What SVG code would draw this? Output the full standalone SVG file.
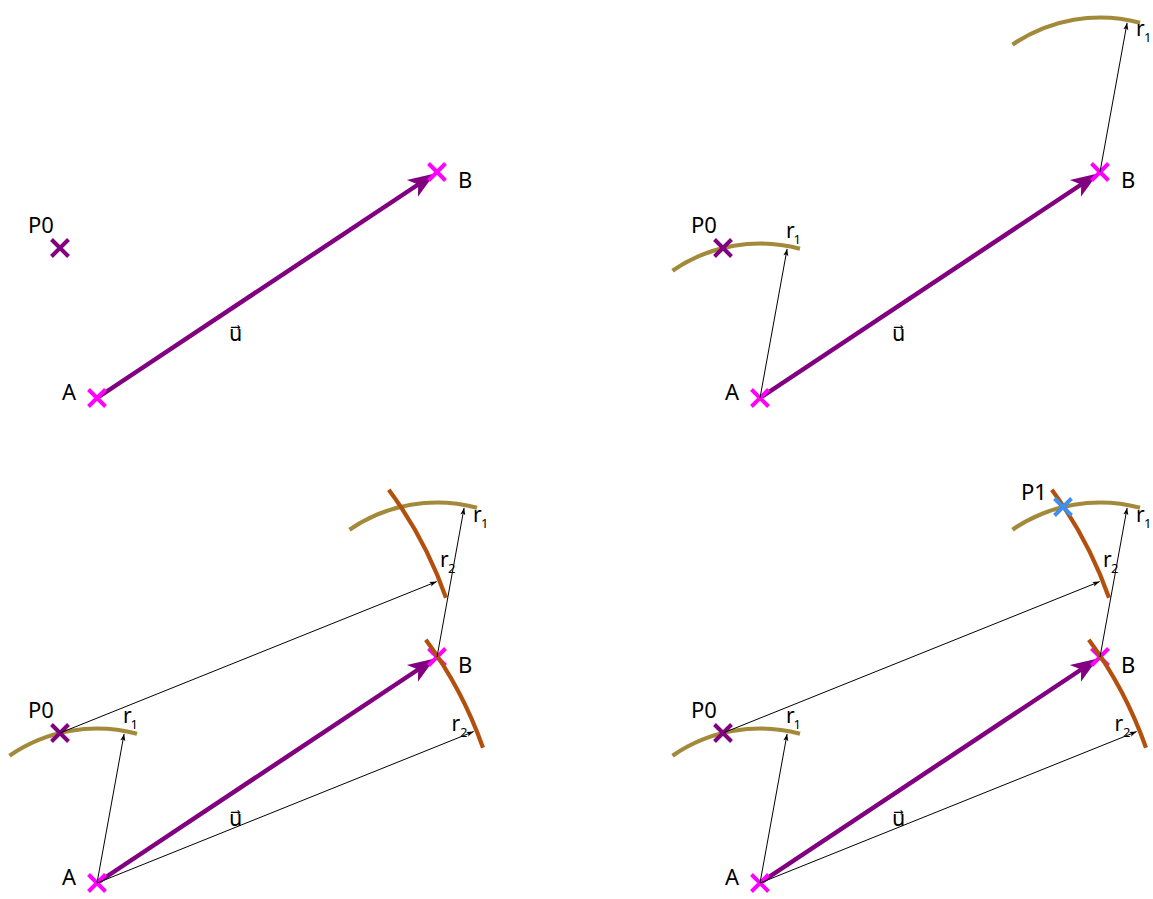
<svg xmlns="http://www.w3.org/2000/svg" xmlns:xlink="http://www.w3.org/1999/xlink" width="1153" height="899" viewBox="0 0 1153 899">
<style>
  .u { fill: none; stroke: #800080; stroke-width: 4.5; marker-end: url(#bigah); }
  .thin { fill: none; stroke: #000; stroke-width: 1; marker-end: url(#ah); }
  .arc1 { fill: none; stroke: #a38a3b; stroke-width: 4.2; }
  .arc2 { fill: none; stroke: #b4500e; stroke-width: 4.2; }
  .xm { fill: none; stroke: #ff00ff; stroke-width: 4; }
  .xp { fill: none; stroke: #800080; stroke-width: 4; }
  .xb { fill: none; stroke: #3d8ff0; stroke-width: 4; }
  .lbl { font-family: "Noto Sans", "Liberation Sans", sans-serif; font-size: 22px; fill: #000; }
  .rl { font-family: "Noto Sans", "Liberation Sans", sans-serif; font-size: 21px; fill: #000; }
  .sub { font-size: 13px; }
  .ul { font-family: "DejaVu Sans", sans-serif; font-size: 21px; fill: #000; }
</style>
<defs>
  <marker id="ah" viewBox="-8 -4 9 8" refX="0" refY="0" markerWidth="9" markerHeight="8" markerUnits="userSpaceOnUse" orient="auto">
    <path d="M0,0 L-7,-2.5 L-5.5,0 L-7,2.5 Z" fill="#000"/>
  </marker>
  <marker id="bigah" viewBox="-10 -12 32 24" refX="0" refY="0" markerWidth="32" markerHeight="24" markerUnits="userSpaceOnUse" orient="auto">
    <path d="M20,0 L-7,-10 L0,0 L-7,10 Z" fill="#800080"/>
  </marker>
  <path id="cross" d="M-8.5,-8.5 L8.5,8.5 M-8.5,8.5 L8.5,-8.5"/>
</defs>

<!-- Panel 1 -->
<g id="panel1">
  <g id="p1-connectors">
    <path class="u" d="M97,398 L418.2,184.5"/>
  </g>
  <g id="p1-A"><use xlink:href="#cross" href="#cross" class="xm" x="97" y="398"/><text class="lbl" x="62" y="400">A</text></g>
  <g id="p1-B"><use xlink:href="#cross" href="#cross" class="xm" x="437" y="172"/><text class="lbl" x="458" y="188">B</text></g>
  <g id="p1-P0"><use xlink:href="#cross" href="#cross" class="xp" x="60" y="248"/><text class="lbl" x="28" y="233">P0</text></g>
  <g id="p1-u"><text class="ul" x="229" y="341">u&#x20D7;</text></g>
</g>

<!-- Panel 2 -->
<g id="panel2" transform="translate(663,0)">
  <g id="p2-connectors">
    <path class="u" d="M97,398 L418.2,184.5"/>
  </g>
  <g id="p2-A"><use xlink:href="#cross" href="#cross" class="xm" x="97" y="398"/><text class="lbl" x="62" y="400">A</text></g>
  <g id="p2-B"><use xlink:href="#cross" href="#cross" class="xm" x="437" y="172"/><text class="lbl" x="458" y="188">B</text></g>
  <g id="p2-arcs">
    <path class="arc1" d="M9.5,270.7 A154.5,154.5 0 0 1 137,248.8"/>
    <path class="arc1" d="M349.5,44.7 A154.5,154.5 0 0 1 477,22.8"/>
  </g>
  <g id="p2-P0"><use xlink:href="#cross" href="#cross" class="xp" x="60" y="248"/><text class="lbl" x="28" y="233">P0</text></g>
  <g id="p2-radii">
    <path class="thin" d="M97,398 L124.1,248.9"/>
    <path class="thin" d="M437,172 L464.1,22.9"/>
  </g>
  <g id="p2-labels">
    <text class="rl" x="123" y="238">r<tspan class="sub" x="130.5" y="243.5">1</tspan></text>
    <text class="rl" x="473" y="36">r<tspan class="sub" x="481" y="41.5">1</tspan></text>
    <text class="ul" x="229" y="341">u&#x20D7;</text>
  </g>
</g>

<!-- Panel 3 -->
<g id="panel3" transform="translate(0,485)">
  <g id="p3-connectors">
    <path class="u" d="M97,398 L418.2,184.5"/>
  </g>
  <g id="p3-A"><use xlink:href="#cross" href="#cross" class="xm" x="97" y="398"/><text class="lbl" x="62" y="400">A</text></g>
  <g id="p3-B"><use xlink:href="#cross" href="#cross" class="xm" x="437" y="172"/><text class="lbl" x="458" y="188">B</text></g>
  <g id="p3-arcs">
    <path class="arc1" d="M9.5,270.7 A154.5,154.5 0 0 1 137,248.8"/>
    <path class="arc1" d="M349.5,44.7 A154.5,154.5 0 0 1 477,22.8"/>
    <path class="arc2" d="M425.8,154.7 A409,409 0 0 1 483,262.8"/>
    <path class="arc2" d="M388.8,4.7 A409,409 0 0 1 446,112.8"/>
  </g>
  <g id="p3-P0"><use xlink:href="#cross" href="#cross" class="xp" x="60" y="248"/><text class="lbl" x="28" y="233">P0</text></g>
  <g id="p3-radii">
    <path class="thin" d="M97,398 L124.1,248.9"/>
    <path class="thin" d="M437,172 L464.1,22.9"/>
    <path class="thin" d="M97,398 L473.7,246.6"/>
    <path class="thin" d="M60,248 L436.7,96.6"/>
  </g>
  <g id="p3-labels">
    <text class="rl" x="123" y="238">r<tspan class="sub" x="130.5" y="243.5">1</tspan></text>
    <text class="rl" x="473" y="37">r<tspan class="sub" x="481" y="42.5">1</tspan></text>
    <text class="rl" x="440" y="82">r<tspan class="sub" x="448" y="87.5">2</tspan></text>
    <text class="rl" x="451.5" y="246">r<tspan class="sub" x="460" y="251.5">2</tspan></text>
    <text class="ul" x="229" y="341">u&#x20D7;</text>
  </g>
</g>

<!-- Panel 4 -->
<g id="panel4" transform="translate(663,485)">
  <g id="p4-connectors">
    <path class="u" d="M97,398 L418.2,184.5"/>
  </g>
  <g id="p4-A"><use xlink:href="#cross" href="#cross" class="xm" x="97" y="398"/><text class="lbl" x="62" y="400">A</text></g>
  <g id="p4-B"><use xlink:href="#cross" href="#cross" class="xm" x="437" y="172"/><text class="lbl" x="458" y="188">B</text></g>
  <g id="p4-arcs">
    <path class="arc1" d="M9.5,270.7 A154.5,154.5 0 0 1 137,248.8"/>
    <path class="arc1" d="M349.5,44.7 A154.5,154.5 0 0 1 477,22.8"/>
    <path class="arc2" d="M425.8,154.7 A409,409 0 0 1 483,262.8"/>
    <path class="arc2" d="M388.8,4.7 A409,409 0 0 1 446,112.8"/>
  </g>
  <g id="p4-P0"><use xlink:href="#cross" href="#cross" class="xp" x="60" y="248"/><text class="lbl" x="28" y="233">P0</text></g>
  <g id="p4-radii">
    <path class="thin" d="M97,398 L124.1,248.9"/>
    <path class="thin" d="M437,172 L464.1,22.9"/>
    <path class="thin" d="M97,398 L473.7,246.6"/>
    <path class="thin" d="M60,248 L436.7,96.6"/>
  </g>
  <g id="p4-P1"><use xlink:href="#cross" href="#cross" class="xb" x="400" y="22"/><text class="lbl" x="358" y="15">P1</text></g>
  <g id="p4-labels">
    <text class="rl" x="123" y="238">r<tspan class="sub" x="130.5" y="243.5">1</tspan></text>
    <text class="rl" x="473" y="37">r<tspan class="sub" x="481" y="42.5">1</tspan></text>
    <text class="rl" x="440" y="82">r<tspan class="sub" x="448" y="87.5">2</tspan></text>
    <text class="rl" x="451.5" y="246">r<tspan class="sub" x="460" y="251.5">2</tspan></text>
    <text class="ul" x="229" y="341">u&#x20D7;</text>
  </g>
</g>
</svg>
